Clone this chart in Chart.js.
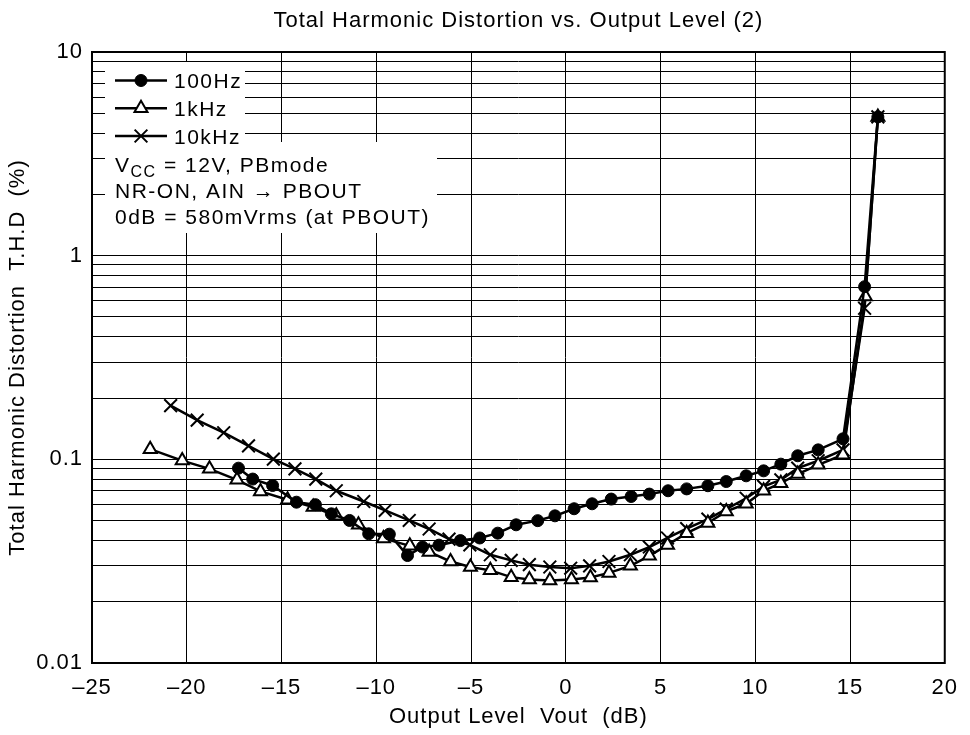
<!DOCTYPE html>
<html>
<head>
<meta charset="utf-8">
<script src="https://cdn.jsdelivr.net/npm/chart.js@4.4.1/dist/chart.umd.min.js"></script>
<style>
html,body{margin:0;padding:0;background:#fff;}
#wrap{width:970px;height:735px;position:relative;}
</style>
</head>
<body>
<div id="wrap"><canvas id="c" width="970" height="735"></canvas></div>
<script>
// ---------- text ----------
const chartTitle = 'Total Harmonic Distortion vs. Output Level (2)';
const xAxisTitle = 'Output Level  Vout  (dB)';
const yAxisTitle = 'Total Harmonic Distortion  T.H.D  (%)';
const seriesNames = ['100Hz', '1kHz', '10kHz'];
const noteMain = 'V';
const noteSub = 'CC';
const noteRest = ' = 12V, PBmode';
const noteLine2 = 'NR-ON, AIN \u2192 PBOUT';
const noteLine3 = '0dB = 580mVrms (at PBOUT)';

// ---------- ticks ----------
const xTickValues = [-25, -20, -15, -10, -5, 0, 5, 10, 15, 20];
const yTickValues = [0.01, 0.1, 1, 10];
const yTickLabels = ['0.01', '0.1', '1', '10'];
const yGridSteps = [1, 2, 3, 4, 5, 6, 7, 8, 9];

// ---------- data : 100Hz ----------
const x100 = [-17.27, -16.52, -15.47, -14.21, -13.21, -12.37, -11.41, -10.40, -9.31, -8.35, -7.56, -6.69, -5.56, -4.54, -3.59, -2.62, -1.48, -0.57, 0.44, 1.39, 2.40, 3.45, 4.41, 5.40, 6.38, 7.50, 8.47, 9.52, 10.44, 11.35, 12.24, 13.32, 14.63, 15.77, 16.47];
const y100 = [0.0905, 0.0800, 0.0744, 0.0616, 0.0599, 0.0540, 0.0501, 0.0431, 0.0429, 0.0337, 0.0371, 0.0379, 0.0399, 0.0411, 0.0434, 0.0477, 0.0500, 0.0528, 0.0572, 0.0605, 0.0638, 0.0657, 0.0675, 0.0701, 0.0716, 0.0742, 0.0778, 0.0830, 0.0878, 0.0947, 0.1041, 0.1113, 0.1261, 0.704, 4.80];

// ---------- data : 1kHz ----------
const x1k = [-21.93, -20.24, -18.80, -17.35, -16.11, -14.68, -13.33, -12.11, -10.94, -9.62, -8.23, -7.21, -6.08, -5.03, -3.98, -2.88, -1.92, -0.84, 0.30, 1.30, 2.28, 3.41, 4.41, 5.37, 6.38, 7.50, 8.47, 9.52, 10.44, 11.35, 12.24, 13.32, 14.63, 15.81, 16.47];
const y1k = [0.1122, 0.0986, 0.0898, 0.0793, 0.0696, 0.0633, 0.0583, 0.0528, 0.0477, 0.0409, 0.0376, 0.0351, 0.0315, 0.0296, 0.0285, 0.0264, 0.0257, 0.0254, 0.0257, 0.0263, 0.0277, 0.0300, 0.0336, 0.0380, 0.0434, 0.0487, 0.0555, 0.0605, 0.0701, 0.0764, 0.0847, 0.0940, 0.1053, 0.630, 4.80];

// ---------- data : 10kHz ----------
const x10k = [-20.85, -19.45, -18.05, -16.74, -15.43, -14.29, -13.19, -12.11, -10.66, -9.53, -8.26, -7.21, -6.16, -5.06, -3.98, -2.88, -1.92, -0.84, 0.26, 1.26, 2.28, 3.41, 4.41, 5.37, 6.38, 7.50, 8.47, 9.52, 10.44, 11.35, 12.24, 13.32, 14.63, 15.77, 16.47];
const y10k = [0.1834, 0.1558, 0.1351, 0.1164, 0.1003, 0.0898, 0.0800, 0.0701, 0.0621, 0.0561, 0.0501, 0.0455, 0.0406, 0.0380, 0.0340, 0.0319, 0.0304, 0.0296, 0.0292, 0.0300, 0.0315, 0.0340, 0.0371, 0.0411, 0.0457, 0.0509, 0.0570, 0.0644, 0.0736, 0.0793, 0.0905, 0.0984, 0.1113, 0.552, 4.80];

// ---------- helpers ----------
const FONT = '"Liberation Sans", Arial, Helvetica, sans-serif';
const toPoints = (xs, ys) => xs.map((x, i) => ({x: x, y: ys[i]}));
const yGridValues = [];
yTickValues.slice(0, -1).forEach(d => yGridSteps.forEach(k => yGridValues.push(+(k * d).toPrecision(3))));
yGridValues.push(yTickValues[yTickValues.length - 1]);

const markerStyles = [
  {style: 'circle', radius: 6, fill: '#000', lw: 1},
  {style: 'triangle', radius: 7.5, fill: '#fff', lw: 2},
  {style: 'crossRot', radius: 9, fill: '#000', lw: 2}
];

function drawMarker(ctx, m, x, y) {
  ctx.save();
  ctx.strokeStyle = '#000';
  ctx.fillStyle = m.fill;
  ctx.lineWidth = m.lw;
  ctx.beginPath();
  if (m.style === 'circle') {
    ctx.arc(x, y, m.radius, 0, Math.PI * 2);
    ctx.fill(); ctx.stroke();
  } else if (m.style === 'triangle') {
    for (let i = 0; i < 3; i++) {
      const a = i * 2 * Math.PI / 3;
      const px = x + Math.sin(a) * m.radius, py = y - Math.cos(a) * m.radius;
      if (i === 0) ctx.moveTo(px, py); else ctx.lineTo(px, py);
    }
    ctx.closePath();
    ctx.fill(); ctx.stroke();
  } else {
    const d = Math.cos(Math.PI / 4) * m.radius;
    ctx.moveTo(x - d, y - d); ctx.lineTo(x + d, y + d);
    ctx.moveTo(x - d, y + d); ctx.lineTo(x + d, y - d);
    ctx.stroke();
  }
  ctx.restore();
}

const spacingPlugin = {
  id: 'spacing',
  beforeLayout(chart) { chart.ctx.letterSpacing = '1px'; },
  beforeDraw(chart) { chart.ctx.letterSpacing = '1px'; }
};

const framePlugin = {
  id: 'frameAndNotes',
  afterDatasetsDraw(chart) {
    const ctx = chart.ctx;
    const a = chart.chartArea;
    ctx.save();
    // inset legend / note boxes
    ctx.fillStyle = '#fff';
    ctx.fillRect(a.left + 13, a.top + 10, 140, 80);
    ctx.fillRect(a.left + 13, a.top + 90, 332, 91);
    ctx.fillStyle = '#000';
    ctx.textBaseline = 'alphabetic';
    ctx.textAlign = 'left';
    ctx.letterSpacing = '1.5px';
    const rowY = [a.top + 28.5, a.top + 56.3, a.top + 84];
    seriesNames.forEach((name, i) => {
      const y = rowY[i];
      ctx.strokeStyle = '#000';
      ctx.lineWidth = 2.5;
      ctx.beginPath();
      ctx.moveTo(a.left + 23, y);
      ctx.lineTo(a.left + 75, y);
      ctx.stroke();
      drawMarker(ctx, markerStyles[i], a.left + 49, y);
      ctx.font = '21px ' + FONT;
      ctx.fillText(name, a.left + 82, y + 7.5);
    });
    // notes
    const x0 = a.left + 23;
    let bx = a.top + 120;
    ctx.font = '21px ' + FONT;
    ctx.fillText(noteMain, x0, bx);
    let w = ctx.measureText(noteMain).width;
    ctx.font = '16px ' + FONT;
    ctx.fillText(noteSub, x0 + w, bx + 5);
    w += ctx.measureText(noteSub).width;
    ctx.font = '21px ' + FONT;
    ctx.fillText(noteRest, x0 + w, bx);
    ctx.fillText(noteLine2, x0, a.top + 145.5);
    ctx.fillText(noteLine3, x0, a.top + 172);
    ctx.restore();
  },
  afterDraw(chart) {
    const ctx = chart.ctx;
    const a = chart.chartArea;
    ctx.save();
    ctx.strokeStyle = '#000';
    ctx.lineWidth = 2;
    ctx.strokeRect(a.left, a.top, a.right - a.left, a.bottom - a.top);
    ctx.restore();
  }
};

const common = {showLine: true, borderColor: '#000', borderWidth: 2.5, tension: 0, pointBorderColor: '#000', pointHoverRadius: 0};

new Chart(document.getElementById('c'), {
  type: 'scatter',
  data: {
    datasets: [
      Object.assign({}, common, {label: seriesNames[0], data: toPoints(x100, y100), pointStyle: markerStyles[0].style, pointRadius: markerStyles[0].radius, pointBackgroundColor: markerStyles[0].fill, pointBorderWidth: markerStyles[0].lw}),
      Object.assign({}, common, {label: seriesNames[1], data: toPoints(x1k, y1k), pointStyle: markerStyles[1].style, pointRadius: markerStyles[1].radius, pointBackgroundColor: markerStyles[1].fill, pointBorderWidth: markerStyles[1].lw}),
      Object.assign({}, common, {label: seriesNames[2], data: toPoints(x10k, y10k), pointStyle: markerStyles[2].style, pointRadius: markerStyles[2].radius, pointBackgroundColor: markerStyles[2].fill, pointBorderWidth: markerStyles[2].lw})
    ]
  },
  options: {
    responsive: false,
    animation: false,
    devicePixelRatio: 1,
    layout: {padding: {left: 0, right: 19, top: 0, bottom: 0}},
    plugins: {
      legend: {display: false},
      tooltip: {enabled: false},
      title: {
        display: true,
        fullSize: false,
        text: chartTitle,
        color: '#000',
        font: {family: FONT, size: 22, weight: 'normal'},
        padding: {top: 7.5, bottom: 18.1}
      }
    },
    scales: {
      x: {
        type: 'linear',
        min: -25, max: 20,
        afterBuildTicks: s => { s.ticks = xTickValues.map(v => ({value: v})); },
        afterFit: s => { s.height = 72; },
        grid: {color: '#000', lineWidth: 1, drawTicks: false},
        border: {display: false},
        ticks: {
          color: '#000',
          font: {family: FONT, size: 22},
          padding: 12,
          maxRotation: 0,
          callback: v => (v < 0 ? '\u2013' + Math.abs(v) : String(v))
        },
        title: {display: true, text: xAxisTitle, color: '#000', font: {family: FONT, size: 22}, padding: {top: 0, bottom: 5}}
      },
      y: {
        type: 'logarithmic',
        min: 0.01, max: 10,
        afterBuildTicks: s => { s.ticks = yGridValues.map(v => ({value: v})); },
        afterFit: s => { s.width = 92; },
        grid: {color: '#000', lineWidth: 1, drawTicks: false},
        border: {display: false},
        ticks: {
          color: '#000',
          font: {family: FONT, size: 22},
          padding: 9,
          autoSkip: false,
          callback: v => {
            const i = yTickValues.findIndex(t => Math.abs(t - v) / t < 1e-6);
            return i >= 0 ? yTickLabels[i] : '';
          }
        },
        title: {display: true, text: yAxisTitle, color: '#000', font: {family: FONT, size: 22}, padding: {top: 5, bottom: 0}}
      }
    }
  },
  plugins: [spacingPlugin, framePlugin]
});
</script>
</body>
</html>
